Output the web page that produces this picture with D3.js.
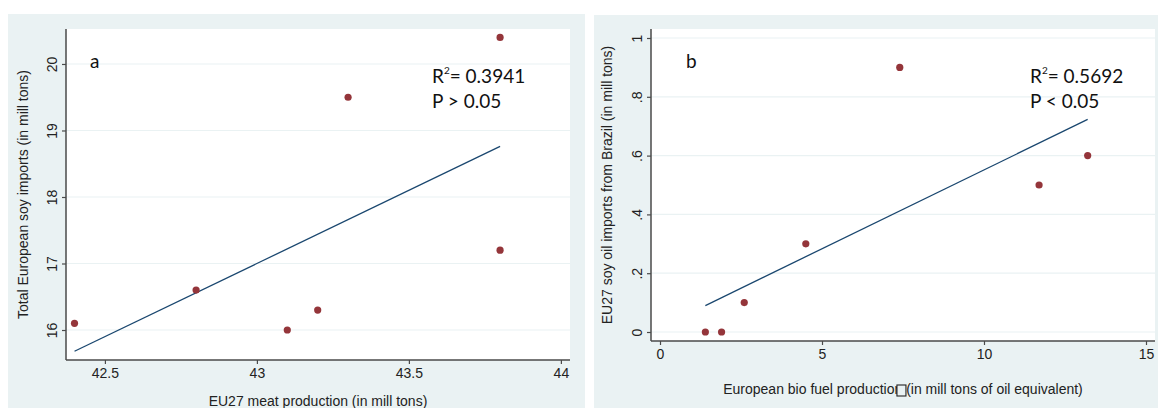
<!DOCTYPE html>
<html><head><meta charset="utf-8">
<script src="https://cdn.jsdelivr.net/npm/d3@7"></script>
<style>
html,body{margin:0;padding:0;background:#fff;}
svg{display:block;}
</style></head>
<body>
<svg id="chart" width="1158" height="408"></svg>
<script>
// ---- Panel a data ----
const meatProduction = [42.4, 42.8, 43.1, 43.2, 43.3, 43.8, 43.8];
const soyImports     = [16.1, 16.6, 16.0, 16.3, 19.5, 20.4, 17.2];
const fitA = [[42.4, 15.68], [43.8, 18.76]];
const xTicksA = [42.5, 43, 43.5, 44];
const yTicksA = [16, 17, 18, 19, 20];
const statsA = ["0.3941", "P > 0.05"];

// ---- Panel b data ----
const bioFuel     = [1.4, 1.9, 2.6, 4.5, 7.4, 11.7, 13.2];
const soyOilBrazil = [0, 0, 0.1, 0.3, 0.9, 0.5, 0.6];
const fitB = [[1.4, 0.09], [13.2, 0.723]];
const xTicksB = [0, 5, 10, 15];
const yTicksB = [0, 0.2, 0.4, 0.6, 0.8, 1];
const yTickLabelsB = ["0", ".2", ".4", ".6", ".8", "1"];
const statsB = ["0.5692", "P < 0.05"];

const BG = "#eaf2f3", MARK = "#94353a", LINE = "#1a476f", AXIS = "#4a4a4a";
const AXFONT = "'Liberation Sans', Arial, sans-serif";
const ANFONT = "Lato, 'Open Sans', sans-serif";
const svg = d3.select("#chart");

function panel(cfg) {
  const g = svg.append("g");
  g.append("rect").attr("x", cfg.bg[0]).attr("y", cfg.bg[1])
    .attr("width", cfg.bg[2]).attr("height", cfg.bg[3]).attr("fill", BG);
  const x = d3.scaleLinear().domain(cfg.xDomain).range([cfg.L, cfg.R]);
  const y = d3.scaleLinear().domain(cfg.yDomain).range([cfg.B, cfg.T]);
  g.append("rect").attr("x", cfg.L).attr("y", cfg.T)
    .attr("width", cfg.R - cfg.L).attr("height", cfg.B - cfg.T).attr("fill", "#fff");
  // gridlines
  g.selectAll(".grid").data(cfg.yTicks).join("line")
    .attr("x1", cfg.L).attr("x2", cfg.R)
    .attr("y1", d => y(d)).attr("y2", d => y(d))
    .attr("stroke", BG).attr("stroke-width", 1.2);
  // y axis
  const yAx = g.append("g").attr("transform", `translate(${cfg.L},0)`)
    .call(d3.axisLeft(y).tickValues(cfg.yTicks).tickSize(4).tickPadding(5)
      .tickFormat((d, i) => cfg.yLabels ? cfg.yLabels[i] : d3.format("")(d)));
  yAx.select(".domain").attr("d", `M0,${cfg.T}V${cfg.B}`);
  // x axis
  const xAx = g.append("g").attr("transform", `translate(0,${cfg.B})`)
    .call(d3.axisBottom(x).tickValues(cfg.xTicks).tickSize(4).tickPadding(4)
      .tickFormat(d3.format("")));
  xAx.select(".domain").attr("d", `M${cfg.L},0H${cfg.R}`);
  [yAx, xAx].forEach(a => {
    a.select(".domain").attr("stroke", AXIS).attr("stroke-width", 1.5);
    a.selectAll(".tick line").attr("stroke", AXIS).attr("stroke-width", 1.2);
    a.selectAll("text").attr("fill", "#222").style("font-family", AXFONT).style("font-size", "14px");
  });
  // rotate y tick labels
  yAx.selectAll(".tick text")
    .attr("transform", "rotate(-90)")
    .attr("x", 0).attr("y", -9).attr("dy", 0)
    .attr("text-anchor", "middle");
  // fit line
  g.append("path").datum(cfg.fit)
    .attr("d", d3.line().x(d => x(d[0])).y(d => y(d[1])))
    .attr("fill", "none").attr("stroke", LINE).attr("stroke-width", 1.3);
  // points
  g.selectAll(".pt").data(cfg.xs.map((v, i) => [v, cfg.ys[i]])).join("circle")
    .attr("cx", d => x(d[0])).attr("cy", d => y(d[1])).attr("r", 3.6)
    .attr("fill", MARK);
  // axis titles
  g.append("text")
    .attr("transform", `translate(${cfg.yTitleX},${(cfg.T + cfg.B) / 2}) rotate(-90)`)
    .attr("text-anchor", "middle").style("font-family", AXFONT).style("font-size", "14px")
    .attr("fill", "#222").text(cfg.yTitle);
  const xt = g.append("text").attr("x", (cfg.L + cfg.R) / 2).attr("y", cfg.xTitleY)
    .attr("text-anchor", "middle").style("font-family", AXFONT).style("font-size", "14px")
    .attr("fill", "#222").text(cfg.xTitle);
  if (cfg.boxAfter) {
    // missing-glyph box drawn over the title, as in the reference
    const idx = cfg.xTitle.indexOf(cfg.boxAfter) + cfg.boxAfter.length - 1;
    const p = xt.node().getStartPositionOfChar(idx);
    g.append("rect").attr("x", p.x + 2.5).attr("y", cfg.xTitleY - 9)
      .attr("width", 9).attr("height", 11)
      .attr("fill", BG).attr("stroke", "#222").attr("stroke-width", 1.1);
  }
  // panel letter
  g.append("text").attr("x", cfg.letterX).attr("y", 68)
    .style("font-family", ANFONT).style("font-size", "19px").attr("fill", "#111").text(cfg.letter);
  // stats
  const s = g.append("text").attr("x", cfg.statX).attr("y", 83)
    .style("font-family", ANFONT).style("font-size", "19px").attr("fill", "#111");
  s.append("tspan").text("R");
  s.append("tspan").attr("dy", -9).style("font-size", "10px").text("2");
  s.append("tspan").attr("dy", 9).text("= " + cfg.stats[0]);
  g.append("text").attr("x", cfg.statX).attr("y", 108)
    .style("font-family", ANFONT).style("font-size", "19px").attr("fill", "#111").text(cfg.stats[1]);
}

panel({
  bg: [8, 14, 577, 394], L: 66, R: 570, T: 29, B: 360,
  xDomain: [42.372, 44.03], yDomain: [15.549, 20.526],
  xTicks: xTicksA, yTicks: yTicksA,
  xs: meatProduction, ys: soyImports, fit: fitA,
  yTitle: "Total European soy imports (in mill tons)", yTitleX: 28,
  xTitleY: 406, xTitle: "EU27 meat production (in mill tons)",
  letter: "a", letterX: 90, statX: 432, stats: statsA
});

panel({
  bg: [594, 15, 564, 393], L: 651, R: 1155, T: 29, B: 341,
  xDomain: [-0.278, 15.278], yDomain: [-0.0306, 1.0306],
  xTicks: xTicksB, yTicks: yTicksB, yLabels: yTickLabelsB,
  xs: bioFuel, ys: soyOilBrazil, fit: fitB,
  yTitle: "EU27 soy oil imports from Brazil (in mill tons)", yTitleX: 612,
  xTitleY: 394, xTitle: "European bio fuel production (in mill tons of oil equivalent)",
  boxAfter: "production",
  letter: "b", letterX: 686, statX: 1030, stats: statsB
});
</script>
</body></html>
